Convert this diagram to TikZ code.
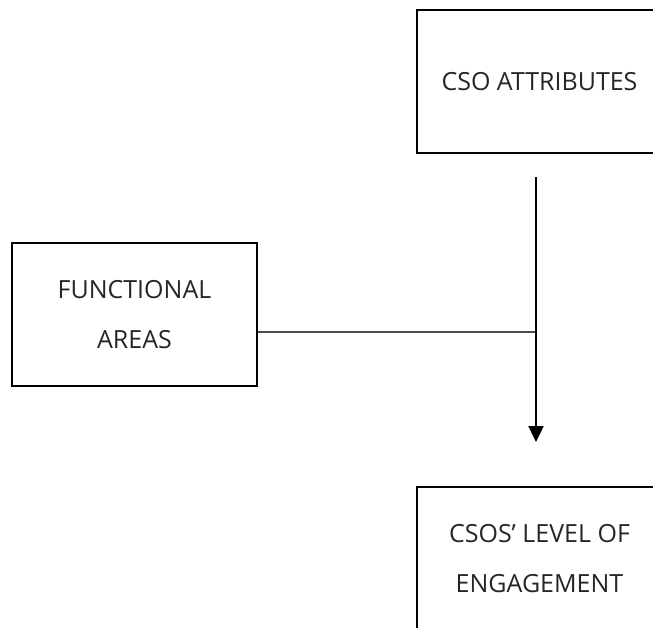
\documentclass[tikz,border=0pt]{standalone}
\usepackage{fontspec}
\setmainfont{Open Sans}
\usetikzlibrary{arrows.meta}
\begin{document}
\begin{tikzpicture}[x=1pt,y=-1pt,
  boxnode/.style={draw=black, line width=2.4pt, minimum width=245pt, minimum height=143pt,
    inner sep=0pt, align=center, text=black!85, font=\fontsize{25}{50}\selectfont},
  thinline/.style={draw=black!70, line width=1.2pt},
  arrline/.style={draw=black, line width=2.4pt, -{Triangle[length=16pt,width=15pt]}}]
\useasboundingbox (0,0) rectangle (653,628);
\clip (0,0) rectangle (653,628);
\node[boxnode] (cso) at (539.5,81.5) {CSO ATTRIBUTES};
\node[boxnode] (func) at (134.5,314.5) {FUNCTIONAL\\AREAS};
\node[boxnode] (eng) at (539.5,558.5) {CSOS’ LEVEL OF\\ENGAGEMENT};
\coordinate (astart) at (536,177);
\coordinate (aend) at (536,442);
\coordinate (junc) at (536,332);
\draw[thinline] (func.east |- junc) -- (junc);
\draw[arrline] (astart) -- (aend);
\end{tikzpicture}
\end{document}
